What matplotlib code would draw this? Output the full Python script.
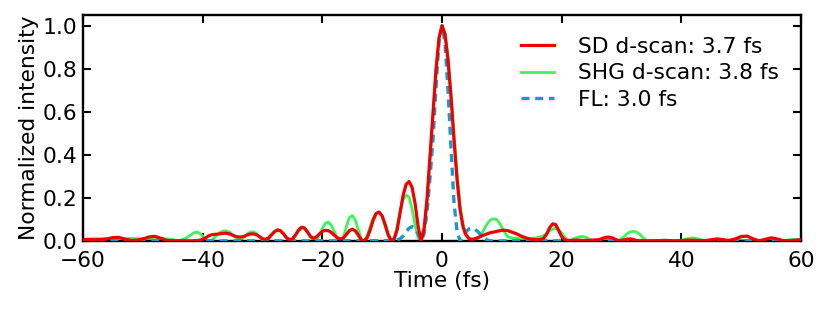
import numpy as np
import matplotlib
matplotlib.use("Agg")
import matplotlib.pyplot as plt

# time grids (fs): coarse tails, 0.5 fs steps around the pulse
T_LEFT = np.arange(-60, -42)          # -60 .. -43
T_MID = np.arange(-42, 38, 0.5)       # -42 .. 37.5
T_RIGHT = np.arange(38, 61)           # 38 .. 60
time_fs = np.concatenate([T_LEFT, T_MID, T_RIGHT])

sd_left = [0.009, 0.009, 0.008, 0.009, 0.012, 0.018, 0.019, 0.011, 0.005,
           0.006, 0.012, 0.021, 0.024, 0.015, 0.005, 0.003, 0.003, 0.003]
sd_mid = [
    0.003, 0.003, 0.004, 0.006, 0.010, 0.017, 0.026, 0.031, 0.033, 0.034,
    0.036, 0.038, 0.038, 0.035, 0.029, 0.024, 0.021, 0.021, 0.025, 0.031,
    0.035, 0.035, 0.031, 0.022, 0.013, 0.010, 0.016, 0.031, 0.046, 0.054,
    0.050, 0.036, 0.018, 0.008, 0.012, 0.030, 0.052, 0.066, 0.063, 0.045,
    0.024, 0.015, 0.021, 0.035, 0.047, 0.052, 0.050, 0.042, 0.029, 0.017,
    0.012, 0.016, 0.032, 0.050, 0.057, 0.050, 0.030, 0.008, 0.002, 0.018,
    0.055, 0.100, 0.130, 0.136, 0.118, 0.078, 0.032, 0.004, 0.010, 0.055,
    0.135, 0.215, 0.265, 0.278, 0.250, 0.175, 0.070, 0.002, 0.060, 0.200,
    0.400, 0.600, 0.800, 0.945, 1.000, 0.960, 0.840, 0.670, 0.470, 0.290,
    0.150, 0.068, 0.030, 0.013, 0.010, 0.013, 0.018, 0.024, 0.030, 0.035,
    0.040, 0.043, 0.046, 0.049, 0.052, 0.052, 0.050, 0.045, 0.040, 0.035,
    0.028, 0.022, 0.017, 0.013, 0.010, 0.009, 0.008, 0.009, 0.015, 0.035,
    0.065, 0.082, 0.078, 0.050, 0.022, 0.008, 0.005, 0.005, 0.006, 0.006,
    0.006, 0.005, 0.005, 0.005, 0.006, 0.007, 0.008, 0.011, 0.016, 0.020,
    0.020, 0.016, 0.009, 0.005, 0.005, 0.008, 0.011, 0.012, 0.009, 0.005,
    0.003, 0.003, 0.003, 0.003, 0.003, 0.003, 0.004, 0.004, 0.005, 0.005]
sd_right = [0.004, 0.003, 0.004, 0.006, 0.006, 0.004, 0.004, 0.008, 0.012,
            0.008, 0.005, 0.012, 0.023, 0.025, 0.012, 0.003, 0.010, 0.017,
            0.012, 0.004, 0.003, 0.006, 0.008]

shg_left = [0.012, 0.012, 0.013, 0.013, 0.012, 0.011, 0.012, 0.013, 0.014,
            0.013, 0.012, 0.012, 0.013, 0.013, 0.012, 0.009, 0.004, 0.012]
shg_mid = [
    0.030, 0.040, 0.044, 0.038, 0.025, 0.010, 0.002, 0.006, 0.018, 0.033,
    0.044, 0.049, 0.049, 0.043, 0.032, 0.018, 0.009, 0.010, 0.022, 0.036,
    0.044, 0.045, 0.037, 0.022, 0.007, 0.001, 0.010, 0.028, 0.044, 0.050,
    0.047, 0.033, 0.015, 0.004, 0.008, 0.026, 0.047, 0.060, 0.058, 0.042,
    0.020, 0.005, 0.006, 0.028, 0.060, 0.085, 0.090, 0.075, 0.045, 0.015,
    0.000, 0.018, 0.068, 0.110, 0.120, 0.100, 0.055, 0.012, 0.003, 0.028,
    0.070, 0.110, 0.132, 0.135, 0.115, 0.070, 0.025, 0.002, 0.020, 0.070,
    0.140, 0.195, 0.215, 0.205, 0.150, 0.075, 0.015, 0.004, 0.050, 0.190,
    0.390, 0.590, 0.790, 0.940, 1.000, 0.965, 0.855, 0.690, 0.500, 0.320,
    0.170, 0.080, 0.035, 0.015, 0.009, 0.008, 0.014, 0.030, 0.055, 0.080,
    0.098, 0.105, 0.104, 0.090, 0.065, 0.040, 0.022, 0.017, 0.016, 0.015,
    0.013, 0.012, 0.012, 0.013, 0.014, 0.016, 0.019, 0.022, 0.028, 0.038,
    0.050, 0.058, 0.060, 0.055, 0.040, 0.020, 0.006, 0.006, 0.012, 0.018,
    0.022, 0.023, 0.020, 0.013, 0.005, 0.001, 0.002, 0.006, 0.009, 0.010,
    0.008, 0.004, 0.001, 0.003, 0.012, 0.025, 0.037, 0.045, 0.047, 0.044,
    0.034, 0.020, 0.008, 0.002, 0.001, 0.002, 0.002, 0.002, 0.002, 0.002]
shg_right = [0.002, 0.003, 0.006, 0.013, 0.017, 0.010, 0.003, 0.002, 0.002,
             0.003, 0.006, 0.010, 0.008, 0.004, 0.003, 0.005, 0.008, 0.006,
             0.003, 0.004, 0.008, 0.010, 0.009]

fl_time = [-60, -50, -40, -30, -20, -10, -8, -7.5, -7, -6.5, -6, -5.5, -5,
           -4.5, -4, -3.5, -3, -2.5, -2, -1.5, -1, -0.5, 0, 0.5, 1, 1.5, 2,
           2.5, 3, 3.5, 4, 4.5, 5, 5.5, 6, 6.5, 7, 7.5, 8, 10, 20, 30, 40,
           50, 60]
fl_vals = [0.003, 0.003, 0.003, 0.003, 0.003, 0.004, 0.004, 0.007, 0.013,
           0.025, 0.045, 0.062, 0.069, 0.060, 0.035, 0.004, 0.035, 0.140,
           0.300, 0.480, 0.720, 0.930, 1.000, 0.920, 0.700, 0.430, 0.180,
           0.050, 0.003, 0.020, 0.045, 0.058, 0.062, 0.058, 0.045, 0.030,
           0.017, 0.008, 0.003, 0.003, 0.003, 0.003, 0.003, 0.003, 0.003]

sd_vals = np.array(sd_left + sd_mid + sd_right)
shg_vals = np.array(shg_left + shg_mid + shg_right)

LABELS = ["SD d-scan: 3.7 fs", "SHG d-scan: 3.8 fs", "FL: 3.0 fs"]
C_SD = "#f00000"
C_SHG = "#3cf55a"
C_FL = "#1898d0"

plt.rcParams["font.family"] = ["DejaVu Sans"]
plt.rcParams["font.size"] = 15.7

fig = plt.figure(figsize=(8.31, 3.12), dpi=100)
ax = fig.add_axes([0.0999, 0.226, 0.8641, 0.726])

ax.plot(time_fs, shg_vals, color=C_SHG, lw=2.0, label=LABELS[1], zorder=2)
ax.plot(fl_time, fl_vals, color=C_FL, lw=2.4, ls=(0, (2.4, 1.7)),
        label=LABELS[2], zorder=3)
ax.plot(time_fs, sd_vals, color=C_SD, lw=2.3, label=LABELS[0], zorder=4)

ax.set_xlim(-60, 60)
ax.set_ylim(0, 1.05)
ax.set_xticks([-60, -40, -20, 0, 20, 40, 60])
ax.set_yticks([0.0, 0.2, 0.4, 0.6, 0.8, 1.0])
ax.set_xlabel("Time (fs)", labelpad=0)
ax.set_ylabel("Normalized intensity", labelpad=3)

for sp in ax.spines.values():
    sp.set_linewidth(1.7)
ax.tick_params(direction="in", length=6, width=1.5, top=True, right=True,
               labelsize=15.7)
ax.tick_params(axis="x", pad=6.5)
ax.tick_params(axis="y", pad=4)

h, l = ax.get_legend_handles_labels()
order = [2, 0, 1]
ax.legend([h[i] for i in order], [l[i] for i in order], loc="upper right",
          bbox_to_anchor=(0.981, 0.942), frameon=False, fontsize=15.7,
          handlelength=1.5, handletextpad=1.1, labelspacing=0.3,
          borderaxespad=0.0)

fig.savefig("out.png", dpi=100)
